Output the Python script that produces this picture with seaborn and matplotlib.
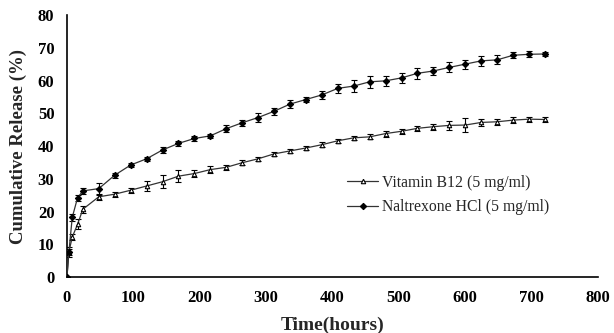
import numpy as np
import pandas as pd
import matplotlib
matplotlib.use("Agg")
import matplotlib.pyplot as plt
import seaborn as sns

time_h = [0, 3, 8, 16] + list(range(24, 721, 24))

vitamin_b12 = [0, 7.7, 12.2, 16.1, 20.7, 24.5, 25.3, 26.5, 27.8, 29.1, 30.8,
               31.6, 32.8, 33.5, 34.9, 36.1, 37.6, 38.5, 39.4, 40.4, 41.6,
               42.5, 42.8, 43.8, 44.5, 45.4, 45.9, 46.3, 46.4, 47.2, 47.4,
               47.9, 48.2, 48.1]
vitamin_err = [0, 1.5, 1.0, 1.5, 1.0, 1.0, 0.8, 0.8, 1.4, 2.0, 1.9, 1.1, 1.0,
               0.8, 0.7, 0.6, 0.6, 0.6, 0.6, 0.7, 0.6, 0.6, 0.8, 0.9, 0.8,
               0.8, 0.9, 1.3, 2.1, 1.0, 1.0, 0.9, 0.8, 0.9]

naltrexone = [0, 7.7, 18.2, 24.2, 26.3, 27.0, 31.1, 34.2, 36.1, 38.8, 40.8,
              42.3, 43.1, 45.3, 47.1, 48.7, 50.6, 52.8, 54.2, 55.6, 57.6,
              58.3, 59.6, 59.9, 60.8, 62.2, 62.9, 64.0, 65.0, 66.0, 66.3,
              67.7, 68.0, 68.1]
naltrexone_err = [0, 1.0, 1.0, 1.0, 1.0, 1.8, 0.8, 0.5, 0.6, 0.9, 0.8, 0.8,
                  0.6, 1.0, 0.9, 1.3, 1.1, 1.3, 0.9, 1.3, 1.4, 1.8, 1.9, 1.5,
                  1.5, 1.7, 1.2, 1.5, 1.4, 1.5, 1.4, 0.9, 0.9, 0.7]

labels = ["Vitamin B12 (5 mg/ml)", "Naltrexone HCl (5 mg/ml)"]
x_ticks = [0, 100, 200, 300, 400, 500, 600, 700, 800]
y_ticks = [0, 10, 20, 30, 40, 50, 60, 70, 80]

sns.set_style("white")
plt.rcParams['font.family'] = ['Liberation Serif', 'DejaVu Serif']

df = pd.concat([
    pd.DataFrame({"time": time_h, "release": vitamin_b12, "err": vitamin_err, "series": labels[0]}),
    pd.DataFrame({"time": time_h, "release": naltrexone, "err": naltrexone_err, "series": labels[1]}),
])

fig = plt.figure(figsize=(6.14, 3.33), dpi=100)
ax = fig.add_axes([0.109, 0.168, 0.865, 0.787])

styles = {labels[0]: dict(marker="^", mfc="white", mec="black", ms=3.2),
          labels[1]: dict(marker="D", mfc="black", mec="black", ms=3.2)}

for name, sub in df.groupby("series", sort=False):
    ax.errorbar(sub["time"], sub["release"], yerr=sub["err"], fmt="none",
                ecolor="black", elinewidth=0.8, capsize=2.5, capthick=0.8, zorder=2)
    sns.lineplot(data=sub, x="time", y="release", ax=ax, color="#333333",
                 linewidth=0.9, label=name, markeredgewidth=0.8, zorder=3,
                 **styles[name])

ax.set_xlim(0, 800)
ax.set_ylim(0, 80)
ax.set_xticks(x_ticks)
ax.set_yticks(y_ticks)
for lab in ax.get_xticklabels() + ax.get_yticklabels():
    lab.set_fontweight("bold")
    lab.set_fontsize(12)
ax.tick_params(direction="in", length=4, width=1, colors="black")
ax.tick_params(axis="y", pad=9)
ax.tick_params(axis="x", pad=9)
for s in ["top", "right"]:
    ax.spines[s].set_visible(False)
for s in ["left", "bottom"]:
    ax.spines[s].set_color("black")
    ax.spines[s].set_linewidth(1.2)

ax.set_xlabel("Time(hours)", fontsize=14, fontweight="bold", labelpad=8)
ax.set_ylabel("Cumulative Release (%)", fontsize=13.5, fontweight="bold", labelpad=8)

leg = ax.legend(loc="upper left", bbox_to_anchor=(0.527, 0.39), frameon=False,
                fontsize=11.3, handlelength=2.0, handletextpad=0.25,
                labelspacing=0.55, borderaxespad=0, borderpad=0)

fig.savefig("out.png", dpi=100)
